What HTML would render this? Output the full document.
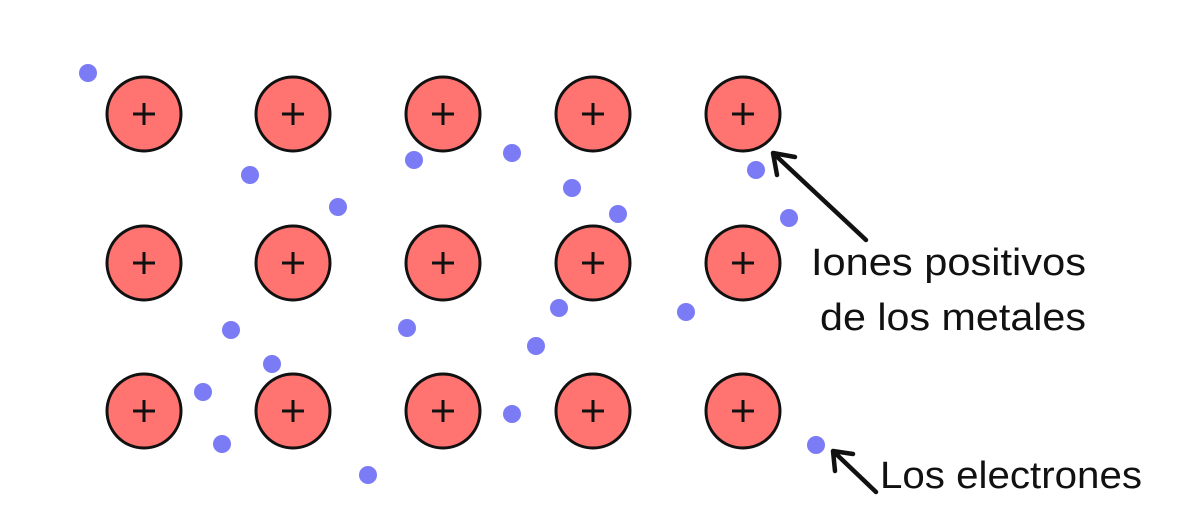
<!DOCTYPE html>
<html><head><meta charset="utf-8"><style>body{margin:0;background:#fff}</style></head><body>
<svg width="1200" height="500" xmlns="http://www.w3.org/2000/svg">
<g fill="#7b7bf5">
<circle cx="88" cy="73" r="9"/><circle cx="250" cy="175" r="9"/><circle cx="338" cy="207" r="9"/><circle cx="414" cy="160" r="9"/><circle cx="512" cy="153" r="9"/><circle cx="572" cy="188" r="9"/><circle cx="618" cy="214" r="9"/><circle cx="756" cy="170" r="9"/><circle cx="789" cy="218" r="9"/><circle cx="231" cy="330" r="9"/><circle cx="272" cy="364" r="9"/><circle cx="407" cy="328" r="9"/><circle cx="559" cy="308" r="9"/><circle cx="536" cy="346" r="9"/><circle cx="686" cy="312" r="9"/><circle cx="203" cy="392" r="9"/><circle cx="222" cy="444" r="9"/><circle cx="368" cy="475" r="9"/><circle cx="512" cy="414" r="9"/><circle cx="816" cy="445" r="9"/>
</g>
<g id="ions" stroke="#111" stroke-width="3">
</g>
<g stroke="#111" stroke-width="3" fill="#ff7370">
<circle cx="144" cy="114" r="37"/><circle cx="293" cy="114" r="37"/><circle cx="443" cy="114" r="37"/><circle cx="593" cy="114" r="37"/><circle cx="743" cy="114" r="37"/>
<circle cx="144" cy="263" r="37"/><circle cx="293" cy="263" r="37"/><circle cx="443" cy="263" r="37"/><circle cx="593" cy="263" r="37"/><circle cx="743" cy="263" r="37"/>
<circle cx="144" cy="411" r="37"/><circle cx="293" cy="411" r="37"/><circle cx="443" cy="411" r="37"/><circle cx="593" cy="411" r="37"/><circle cx="743" cy="411" r="37"/>
</g>
<g stroke="#111" stroke-width="3" fill="none">
<path d="M133 114h22M144 103v22M282 114h22M293 103v22M432 114h22M443 103v22M582 114h22M593 103v22M732 114h22M743 103v22"/>
<path d="M133 263h22M144 252v22M282 263h22M293 252v22M432 263h22M443 252v22M582 263h22M593 252v22M732 263h22M743 252v22"/>
<path d="M133 411h22M144 400v22M282 411h22M293 400v22M432 411h22M443 400v22M582 411h22M593 400v22M732 411h22M743 400v22"/>
</g>
<g stroke="#111" stroke-width="4.5" fill="none" stroke-linecap="round">
<path d="M866 240L773 153M773 153l22 4M773 153l4 22"/>
<path d="M876 492L833 451M833 451l20 3M833 451l2 20"/>
</g>
<g font-family="'Liberation Sans',sans-serif" font-size="38" fill="#111">
<text x="811" y="275" textLength="275" lengthAdjust="spacingAndGlyphs">Iones positivos</text>
<text x="820" y="330" textLength="266" lengthAdjust="spacingAndGlyphs">de los metales</text>
<text x="880" y="488" textLength="262" lengthAdjust="spacingAndGlyphs">Los electrones</text>
</g>
</svg>
</body></html>
